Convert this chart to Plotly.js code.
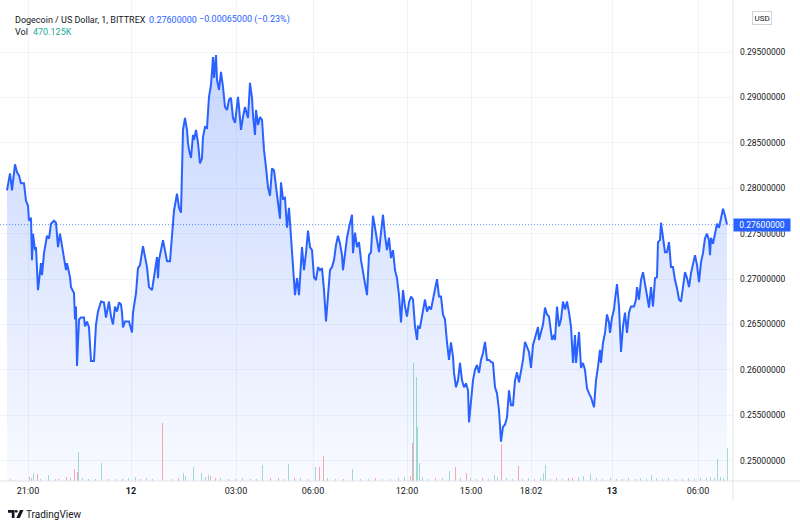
<!DOCTYPE html>
<html>
<head>
<meta charset="utf-8">
<script src="https://cdn.plot.ly/plotly-3.0.1.min.js"></script>
<style>
html,body{margin:0;padding:0;background:#fff;}
#chart{width:800px;height:527px;}
</style>
</head>
<body>
<div id="chart"></div>
<script>
// ---- DATA ----
// bar positions (sequential minute-bar slots on the TradingView time scale)
const bar = [
7,10,12,15,17,19,21,24,26,28,
29,31,32,33,35,36,38,39,41,42,
44,47,49,51,54,56,58,60,62,64,
66,67,70,71,74,75,76,77,79,81,
84,85,87,89,91,94,96,98,101,104,
106,109,111,113,115,117,119,121,122,123,
125,129,132,133,136,138,140,143,145,147,
149,152,154,157,158,159,163,165,167,170,
172,174,177,179,181,183,185,187,188,189,
191,193,194,196,198,200,202,203,205,207,
209,211,213,214,216,217,219,221,223,225,
227,229,231,233,235,238,239,241,243,245,
248,250,252,253,255,256,258,260,262,264,
266,268,270,272,274,276,278,280,281,283,
285,287,289,291,293,295,297,299,302,304,
306,308,310,312,314,316,318,320,322,324,
326,328,330,332,334,336,338,340,342,343,
345,347,349,352,353,355,357,359,361,364,
367,369,371,373,376,379,381,383,385,387,
389,391,393,395,397,399,401,403,405,407,
409,411,413,415,417,418,420,422,425,427,
429,431,433,435,437,439,441,443,445,447,
449,451,453,454,456,458,460,462,464,466,
468,469,471,473,475,477,479,481,483,485,
487,489,491,493,495,497,499,501,503,505,
507,509,511,513,515,517,519,521,523,525,
527,529,531,533,535,538,539,541,543,545,
547,549,551,552,554,555,557,559,561,563,
565,567,569,571,573,575,576,578,579,581,
583,585,587,589,591,594,596,598,600,601,
603,605,607,609,610,612,614,615,617,619,
621,623,625,627,629,631,634,636,637,639,
641,643,645,647,649,651,653,655,657,658,
660,661,663,665,667,669,671,673,675,677,
679,681,683,685,687,689,691,693,695,697,
699,701,703,705,707,709,710,711,713,715,
717,719,721,723,725,727
];
const price = [
.27978,.28165,.27978,.28264,.28176,.28143,.28055,.28055,.27863,.27808,
.27643,.27676,.27209,.275,.27319,.27352,.26879,.26989,.27176,.27044,
.27286,.27478,.27445,.2761,.27643,.27621,.27352,.275,.27352,.27242,
.27099,.27176,.27022,.26912,.26846,.26555,.26698,.26044,.26555,.26577,
.26577,.26478,.26533,.26467,.26099,.26099,.265,.26643,.26753,.26742,
.26577,.26753,.26588,.265,.26698,.26643,.26742,.2672,.26632,.26467,
.26533,.26533,.26412,.26632,.26846,.27121,.27154,.27363,.27231,.27132,
.26912,.26879,.27022,.27242,.27011,.27209,.27429,.27319,.27198,.27198,
.27511,.27753,.2794,.27786,.27731,.28643,.28775,.28643,.285,.28423,
.28335,.28588,.28533,.28643,.285,.28275,.2833,.28566,.28676,.28665,
.29008,.2914,.29445,.29217,.29467,.29195,.29085,.29283,.29118,.28896,
.28863,.28975,.28997,.28775,.2872,.29008,.28896,.28643,.28786,.28896,
.28775,.29162,.28997,.28808,.28588,.28863,.28698,.28786,.28753,.28423,
.28231,.28011,.27918,.2822,.28198,.28011,.2783,.27665,.28066,.27885,
.27896,.27566,.27786,.27456,.27132,.26824,.27011,.26824,.27352,.27099,
.27286,.27533,.27352,.27319,.27022,.26989,.27132,.27099,.27121,.26879,
.26533,.26846,.27099,.27132,.27209,.27374,.27478,.2739,.27264,.27099,
.27286,.27456,.27566,.27709,.27286,.27511,.27352,.27407,.27209,.26989,
.26824,.27264,.27297,.27698,.275,.27297,.27511,.27709,.27478,.27319,
.27456,.27231,.27319,.27099,.27011,.26824,.26522,.26879,.26698,.26588,
.26742,.26808,.26775,.26478,.2633,.26478,.26467,.26611,.26775,.26643,
.26698,.26665,.26775,.26912,.27,.26808,.26808,.26611,.26555,.26302,
.2611,.26302,.26143,.25967,.25808,.25885,.26077,.25885,.25808,.25852,
.25775,.25423,.25665,.25885,.26,.26055,.25967,.2611,.26187,.26308,
.2611,.2611,.26088,.26077,.25808,.25742,.25555,.25209,.25374,.25396,
.25478,.25775,.2561,.2561,.25885,.25973,.25863,.26,.2611,.26308,
.26242,.26198,.26022,.26275,.26352,.26473,.2633,.26407,.265,.26687,
.26611,.26588,.26407,.2633,.26385,.2633,.26698,.26478,.26555,.26753,
.26665,.26753,.26632,.26478,.26077,.26385,.26077,.26297,.26418,.26022,
.26077,.26,.25797,.25742,.25698,.25588,.25885,.26033,.2622,.26077,
.26297,.26407,.26611,.26522,.26407,.26577,.26665,.26775,.26945,.26698,
.26198,.26478,.26632,.26407,.26632,.26698,.26698,.26775,.26912,.26775,
.26989,.27077,.26956,.26808,.26687,.26912,.26698,.27011,.27022,.27407,
.27429,.27621,.27429,.27297,.27297,.27407,.27132,.27132,.26989,.269,
.26775,.26753,.26912,.27077,.27011,.26912,.27066,.27176,.27264,.27154,
.26967,.27187,.27286,.27451,.275,.27429,.27264,.27456,.2739,.275,
.2761,.27566,.27676,.27775,.27698,.276
];

// volume bars (thousands), 1 = up bar (green), 0 = down bar (red)
const volBar = [
10,14,29,31,33,37,40,48,55,58,
66,70,74,77,78,82,88,95,101,108,
115,122,128,135,140,146,152,162,172,178,
183,185,193,201,205,208,210,215,220,228,
235,242,250,256,262,270,278,283,288,294,
300,308,315,319,323,327,335,343,352,360,
368,375,382,390,398,404,410,412,413,416,
417,419,422,428,435,442,449,455,460,466,
470,476,482,488,494,497,501,506,512,518,
522,528,534,540,543,545,550,556,562,568,
572,578,583,590,596,602,610,616,622,628,
635,640,646,651,656,662,668,675,682,688,
694,700,706,710,714,717,720,723,727
];
const volK = [
28,14,57,43,114,99,28,85,28,28,
57,43,170,128,412,43,28,28,256,28,
28,28,43,57,28,43,28,824,28,43,
114,71,199,114,57,85,71,43,43,28,
28,43,28,28,227,43,43,28,241,43,
43,28,199,199,355,43,28,28,170,28,
28,43,28,28,43,57,71,540,1676,1477,
767,256,57,28,43,43,142,199,43,114,
43,28,43,28,85,57,525,43,28,213,
28,43,28,43,114,227,28,43,28,43,
43,57,71,99,43,28,43,28,28,43,
28,43,28,85,43,28,43,28,28,43,
28,43,43,57,43,312,57,43,470.125
];
const volUp = [
1,1,0,1,1,0,1,1,1,0,
0,1,0,0,1,1,1,1,1,0,
1,0,1,1,0,1,1,0,1,0,
1,1,1,1,1,1,0,0,1,0,
1,1,0,1,1,0,0,1,1,0,
1,1,1,0,0,1,1,0,1,1,
1,0,1,1,1,1,0,0,1,1,
1,1,1,1,0,1,1,0,1,0,
1,1,0,1,1,1,0,1,1,0,
1,1,0,1,1,1,1,0,1,0,
0,1,1,1,1,1,1,0,1,1,
0,1,1,1,1,1,1,0,1,1,
1,1,1,1,1,1,1,1,1
];

const timeTickPos = [28,131,236,313,407,471,531,612,698];
const timeTickText = ['21:00','<b>12</b>','03:00','06:00','12:00','15:00','18:02','<b>13</b>','06:00'];
const priceTicks = [0.25,0.255,0.26,0.265,0.27,0.275,0.28,0.285,0.29,0.295];

const symbolTitle = 'Dogecoin / US Dollar, 1, BITTREX';
const lastPrice = 0.276;
const change = -0.00065;
const changePct = -0.23;
const lastVolume = '470.125K';

// ---- LAYOUT HELPERS ----
const PW = 733, PH = 481;
const px = v => v / PW;
const py = v => 1 - v / PH;
const FONT = 'Roboto, "Liberation Sans", sans-serif';
const BLUE = '#2962ff';
const fmtSigned = v => (v < 0 ? '\u2212' : '+') + Math.abs(v).toFixed(8);

const volTrace = {
  type: 'bar', x: volBar, y: volK, yaxis: 'y2',
  width: 1,
  marker: {color: volUp.map(u => u ? 'rgba(34,171,148,0.42)' : 'rgba(242,54,69,0.42)'), line: {width: 0}},
  hoverinfo: 'skip', showlegend: false
};

const priceTrace = {
  type: 'scatter', mode: 'lines', x: bar, y: price,
  line: {color: BLUE, width: 2, shape: 'linear'},
  fill: 'tozeroy',
  fillgradient: {
    type: 'vertical',
    start: 0.2478, stop: 0.2947,
    colorscale: [[0, 'rgba(41,98,255,0.03)'], [1, 'rgba(41,98,255,0.26)']]
  },
  hoverinfo: 'skip', showlegend: false
};

const layout = {
  width: 800, height: 527,
  margin: {l: 0, r: 800 - PW, t: 0, b: 527 - PH},
  paper_bgcolor: '#ffffff', plot_bgcolor: '#ffffff',
  font: {family: FONT, size: 9, color: '#131722'},
  showlegend: false,
  bargap: 0,
  xaxis: {
    range: [0, PW], showgrid: true, gridcolor: '#f0f3fa', gridwidth: 1,
    zeroline: false, showline: false, ticks: '', ticklabelstandoff: 3,
    tickmode: 'array', tickvals: timeTickPos, ticktext: timeTickText,
    tickfont: {family: FONT, size: 9, color: '#131722'}, fixedrange: true
  },
  yaxis: {
    side: 'right', range: [0.247764, 0.30074],
    tickmode: 'array', tickvals: priceTicks,
    ticktext: priceTicks.map(v => v.toFixed(8)),
    showgrid: true, gridcolor: '#f0f3fa', gridwidth: 1,
    zeroline: false, showline: false, ticks: '', ticklabelstandoff: 6,
    tickfont: {family: FONT, size: 8.5, color: '#131722'}, fixedrange: true
  },
  yaxis2: {
    overlaying: 'y', range: [0, PH * 14.2], visible: false, fixedrange: true
  },
  shapes: [
    {type: 'line', xref: 'paper', yref: 'y', x0: 0, x1: 1, y0: lastPrice, y1: lastPrice,
     line: {color: 'rgba(41,98,255,0.7)', width: 1, dash: '1px,2px'}},
    {type: 'line', xref: 'paper', yref: 'paper', x0: 1, x1: 1, y0: py(0), y1: py(500),
     line: {color: '#e0e3eb', width: 1}},
    {type: 'line', xref: 'paper', yref: 'paper', x0: 0, x1: px(800), y0: 0, y1: 0,
     line: {color: '#e0e3eb', width: 1}},
    // TradingView logo mark
    {type: 'path', xref: 'paper', yref: 'paper', xsizemode: 'pixel', ysizemode: 'pixel',
     xanchor: px(8), yanchor: py(510),
     path: 'M0,0 L6.5,0 L6.5,-8 L3.8,-8 L3.8,-2.8 L0,-2.8 Z',
     fillcolor: '#131722', line: {width: 0}},
    {type: 'circle', xref: 'paper', yref: 'paper', xsizemode: 'pixel', ysizemode: 'pixel',
     xanchor: px(16.2), yanchor: py(511.3),
     x0: -1.4, x1: 1.4, y0: -1.4, y1: 1.4,
     fillcolor: '#131722', line: {width: 0}},
    {type: 'path', xref: 'paper', yref: 'paper', xsizemode: 'pixel', ysizemode: 'pixel',
     xanchor: px(8), yanchor: py(510),
     path: 'M12,0 L15.5,0 L11.8,-8 L8.3,-8 Z',
     fillcolor: '#131722', line: {width: 0}}
  ],
  annotations: [
    {xref: 'paper', yref: 'paper', x: px(13), y: py(19.5), xanchor: 'left', yanchor: 'middle',
     text: symbolTitle, showarrow: false, font: {family: FONT, size: 9, color: '#131722'}},
    {xref: 'paper', yref: 'paper', x: px(147), y: py(19.5), xanchor: 'left', yanchor: 'middle',
     text: lastPrice.toFixed(8), showarrow: false, font: {family: FONT, size: 9, color: BLUE}},
    {xref: 'paper', yref: 'paper', x: px(197), y: py(19.5), xanchor: 'left', yanchor: 'middle',
     text: fmtSigned(change) + ' (' + (changePct < 0 ? '\u2212' : '+') + Math.abs(changePct).toFixed(2) + '%)',
     showarrow: false, font: {family: FONT, size: 9, color: BLUE}},
    {xref: 'paper', yref: 'paper', x: px(13), y: py(32.5), xanchor: 'left', yanchor: 'middle',
     text: 'Vol', showarrow: false, font: {family: FONT, size: 9, color: '#131722'}},
    {xref: 'paper', yref: 'paper', x: px(30.5), y: py(32.5), xanchor: 'left', yanchor: 'middle',
     text: lastVolume, showarrow: false, font: {family: FONT, size: 9, color: '#22ab94'}},
    {xref: 'paper', yref: 'paper', x: px(752), y: py(18.5), xanchor: 'left', yanchor: 'middle',
     text: 'USD', showarrow: false, font: {family: FONT, size: 8, color: '#131722'},
     bordercolor: '#d1d4dc', borderwidth: 1, borderpad: 1.5, bgcolor: '#ffffff'},
    {xref: 'paper', yref: 'y', x: 1, y: lastPrice, xanchor: 'left', yanchor: 'middle',
     text: lastPrice.toFixed(8), showarrow: false, font: {family: FONT, size: 8.5, color: '#ffffff'},
     bgcolor: BLUE, width: 55, height: 11, align: 'center', borderpad: 0.5},
    {xref: 'paper', yref: 'paper', x: px(24), y: py(514), xanchor: 'left', yanchor: 'middle',
     text: 'TradingView', showarrow: false, font: {family: FONT, size: 10, color: '#131722'}}
  ]
};

Plotly.newPlot('chart', [volTrace, priceTrace], layout, {staticPlot: true, displayModeBar: false});
</script>
</body>
</html>
